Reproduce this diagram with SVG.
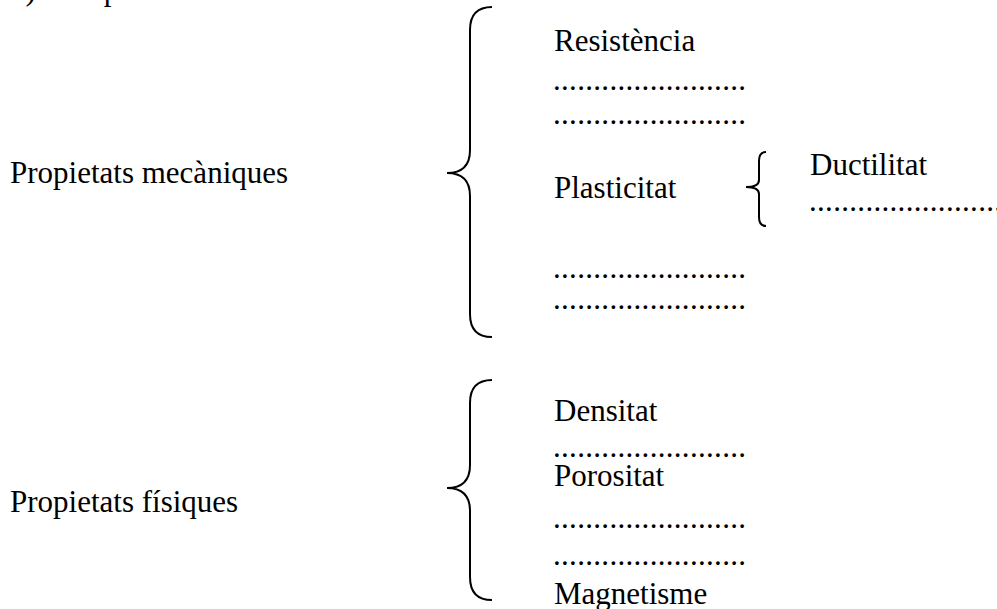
<svg xmlns="http://www.w3.org/2000/svg" width="997" height="609" viewBox="0 0 997 609">
<style>
text{font-family:"Liberation Serif","Times New Roman",serif;font-size:31px;fill:#000}
.brace{fill:none;stroke:#000;stroke-width:2}
</style>
<rect width="997" height="609" fill="#fff"/>
<text x="10" y="0">b) Completa:</text>
<g id="mecaniques">
<text x="10" y="183">Propietats mecàniques</text>
</g>
<g id="fisiques">
<text x="10" y="512">Propietats físiques</text>
</g>
<g id="llista-mecaniques">
<text x="554" y="51">Resistència</text>
<text x="553" y="90" textLength="193" lengthAdjust="spacing">........................</text>
<text x="553" y="124" textLength="193" lengthAdjust="spacing">........................</text>
<text x="554" y="198">Plasticitat</text>
<text x="553" y="278" textLength="193" lengthAdjust="spacing">........................</text>
<text x="553" y="309" textLength="193" lengthAdjust="spacing">........................</text>
</g>
<g id="llista-plasticitat">
<text x="810" y="175">Ductilitat</text>
<text x="809" y="211" textLength="193" lengthAdjust="spacing">........................</text>
</g>
<g id="llista-fisiques">
<text x="554" y="421">Densitat</text>
<text x="553" y="457" textLength="193" lengthAdjust="spacing">........................</text>
<text x="554" y="486">Porositat</text>
<text x="553" y="528" textLength="193" lengthAdjust="spacing">........................</text>
<text x="553" y="565" textLength="193" lengthAdjust="spacing">........................</text>
<text x="554" y="604">Magnetisme</text>
</g>
<g id="connectors">
<path class="brace" d="M492,7 C478,7 470,14 470,30 L470,150 C470,166 462,173 447,173 C462,173 470,180 470,196 L470,314 C470,330 478,337 492,337"/>
<path class="brace" d="M492,380 C478,380 470,387 470,403 L470,465 C470,481 462,488 447,488 C462,488 470,495 470,511 L470,577 C470,593 478,600 492,600"/>
<path class="brace" d="M766,152 C761,152 759,155 759,161 L759,180 C759,185 755,187 746,187 C755,187 759,189 759,194 L759,217 C759,223 761,226 766,226"/>
</g>
</svg>
